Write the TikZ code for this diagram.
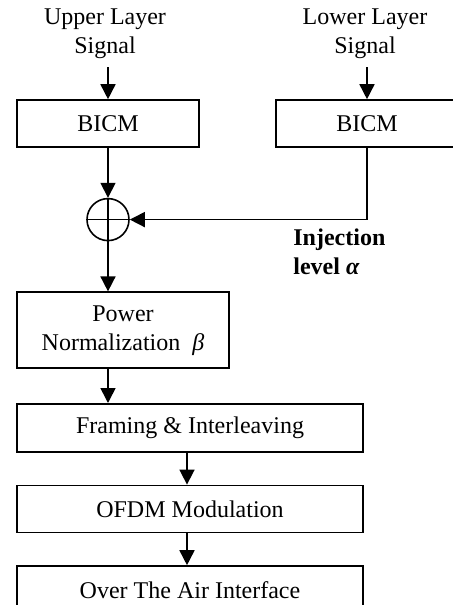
\documentclass[tikz,border=0pt,12pt]{standalone}
\usepackage{fontspec}
\setmainfont{Liberation Serif}
\usetikzlibrary{arrows.meta,positioning}

\begin{document}
\begin{tikzpicture}[
  >={Triangle[length=7.5pt,width=7.5pt]},
  blk/.style={draw, line width=0.8pt, minimum height=23.5pt, inner sep=2pt, align=center},
  sig/.style={align=center},
  arr/.style={->, line width=0.8pt},
  lbl/.style={font=\bfseries, align=left, inner sep=0pt}
]
\useasboundingbox (0pt,0pt) rectangle (226pt,-302.5pt);

\node[sig] (upsig) at (52.5pt,-17pt) {Upper Layer\\Signal};
\node[sig] (losig) at (182.5pt,-17pt) {Lower Layer\\Signal};

\node[blk, minimum width=91pt] (ubicm) at (54pt,-61.75pt) {BICM};
\node[blk, minimum width=91pt] (lbicm) at (183.5pt,-61.75pt) {BICM};

\node[draw, circle, line width=0.8pt, minimum size=21pt, inner sep=0pt, below=25pt of ubicm] (sum) {};
\draw[line width=0.8pt] (sum.north) -- (sum.south) (sum.west) -- (sum.east);

\node[blk, minimum width=106pt, minimum height=38pt, below=25pt of sum.south -| ubicm.west, anchor=north west] (power) {Power\\Normalization\enspace\textit{β}};
\node[blk, minimum width=173pt, minimum height=24pt, below=17pt of power.south west, anchor=north west] (frame) {Framing \& Interleaving};
\node[blk, minimum width=173pt, below=16pt of frame.south west, anchor=north west] (ofdm) {OFDM Modulation};
\node[blk, minimum width=173pt, minimum height=24pt, below=16pt of ofdm.south west, anchor=north west] (air) {Over The Air Interface};

\coordinate (corner) at (lbicm.south |- sum.east);
\node[lbl, anchor=west] (inj) at (146.5pt,-126pt) {Injection\\level \textit{α}};

\draw[arr] (upsig.south -| ubicm.north) -- (ubicm.north);
\draw[arr] (losig.south -| lbicm.north) -- (lbicm.north);
\draw[arr] (ubicm) -- (sum);
\draw[arr] (lbicm.south) -- (corner) -- (sum.east);
\draw[arr] (sum.south) -- (sum.south |- power.north);
\draw[arr] (power.south -| sum.south) -- (sum.south |- frame.north);
\draw[arr] (frame.south -| 93.5pt,0) -- (ofdm.north -| 93.5pt,0);
\draw[arr] (ofdm.south -| 93.5pt,0) -- (air.north -| 93.5pt,0);

\end{tikzpicture}
\end{document}
